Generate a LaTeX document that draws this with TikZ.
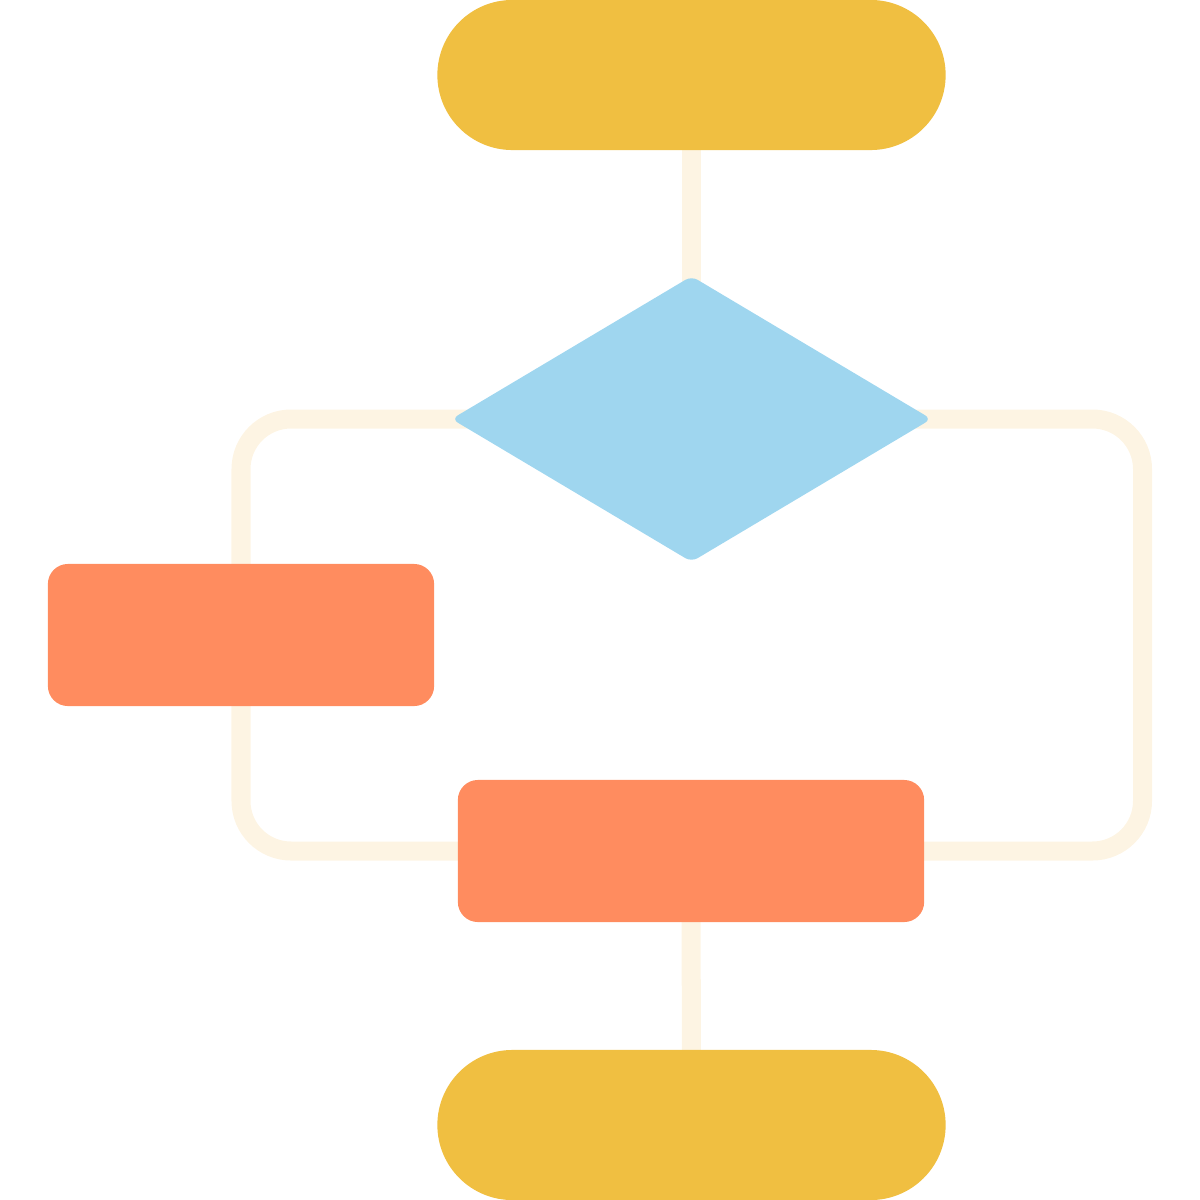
\documentclass[tikz,border=0pt]{standalone}
\usetikzlibrary{shapes.geometric,backgrounds}
\definecolor{termcol}{HTML}{F0BF41}
\definecolor{deccol}{HTML}{9FD6EF}
\definecolor{actcol}{HTML}{FF8C5F}
\definecolor{linkcol}{HTML}{FDF4E3}
\begin{document}
\begin{tikzpicture}[x=0.01cm,y=-0.01cm]
\useasboundingbox (0,0) rectangle (1200,1200);
\node[fill=termcol, rectangle, rounded corners=0.75cm, minimum width=5.08cm, minimum height=1.5cm, inner sep=0] (1) at (691.5,75) {};
\node[fill=deccol, diamond, rounded corners=2pt, minimum width=4.8cm, minimum height=2.86cm, inner sep=0] (2) at (691.5,419) {};
\node[fill=actcol, rectangle, rounded corners=0.2cm, minimum width=3.86cm, minimum height=1.42cm, inner sep=0] (3) at (241,635) {};
\node[fill=actcol, rectangle, rounded corners=0.2cm, minimum width=4.66cm, minimum height=1.42cm, inner sep=0] (4) at (691,851) {};
\node[fill=termcol, rectangle, rounded corners=0.75cm, minimum width=5.08cm, minimum height=1.5cm, inner sep=0] (5) at (691.5,1125) {};

\begin{scope}[on background layer]
\path[draw=linkcol,line width=0.19cm,-] (1.center) -- (2.center);
\path[draw=linkcol,line width=0.19cm,-,rounded corners=0.5cm] (2.center) -| (3.center) |- (4.center);
\path[draw=linkcol,line width=0.19cm,-,rounded corners=0.5cm] (2.center) -- ++(451,0) |- (4.center);
\path[draw=linkcol,line width=0.19cm,-] (4.center) -- (5.center);
\end{scope}
\end{tikzpicture}
\end{document}
